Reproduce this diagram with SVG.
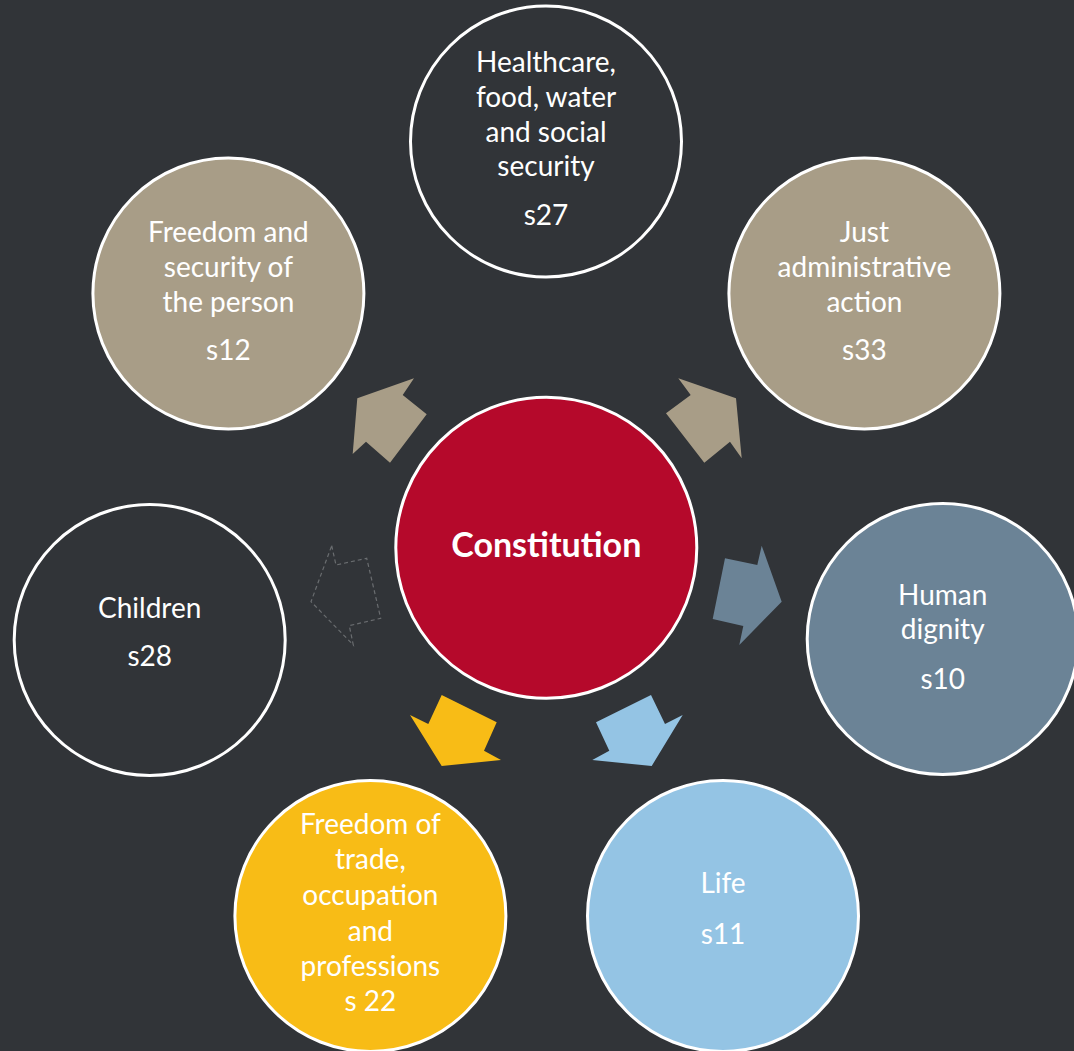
<svg xmlns="http://www.w3.org/2000/svg" width="1074" height="1051" viewBox="0 0 1074 1051">
<style>
.node{stroke:#ffffff;stroke-width:3}
.lbl{font-family:Lato,"Open Sans","Liberation Sans",sans-serif;font-size:28px;fill:#ffffff;text-anchor:middle}
.main{font-family:Lato,"Open Sans","Liberation Sans",sans-serif;font-size:34px;font-weight:bold;fill:#ffffff;text-anchor:middle}
.tan{fill:#A89D87}
.dark{fill:#313438}
</style>
<rect x="0" y="0" width="1074" height="1051" fill="#313438"/>
<g id="connectors">
<polygon class="tan" points="414,378.3 402.7,395 426.7,414.3 390,462.7 366,441.7 352.7,454 357.3,398.3"/>
<polygon class="tan" points="678.3,378.3 690.7,395 666,413.3 704.3,462.7 730,441.7 741.7,458.3 736,398.3"/>
<polygon fill="none" stroke="#6a6d70" stroke-width="1.2" stroke-dasharray="4,3" points="331.7,545.7 336,565 366.7,558.3 380.7,618.3 349.3,625.7 353.3,645 311,601.7"/>
<polygon fill="#6B8396" points="761.7,545.7 781.7,601.7 739.3,645 743.3,626 712.7,619 725,558.3 757.3,565"/>
<polygon fill="#F8BC16" points="441.7,695 496.7,722.3 484,750.7 501,760 441.7,766 410,715 428.3,724"/>
<polygon fill="#94C4E4" points="651,695 665,724 682.7,715 651.7,766 592.3,760 609.3,750.7 596,722.3"/>
</g>
<g id="healthcare">
<circle class="node dark" cx="546" cy="141.5" r="135.5"/>
<text class="lbl" x="546" y="72">Healthcare,</text>
<text class="lbl" x="546" y="107">food, water</text>
<text class="lbl" x="546" y="142">and social</text>
<text class="lbl" x="546" y="176">security</text>
<text class="lbl" x="546" y="225">s27</text>
</g>
<g id="freedom-security">
<circle class="node tan" cx="228.4" cy="293.5" r="135.5"/>
<text class="lbl" x="228.4" y="242">Freedom and</text>
<text class="lbl" x="228.4" y="277">security of</text>
<text class="lbl" x="228.4" y="312">the person</text>
<text class="lbl" x="228.4" y="360">s12</text>
</g>
<g id="just-admin">
<circle class="node tan" cx="864.4" cy="293.5" r="135.5"/>
<text class="lbl" x="864.4" y="242">Just</text>
<text class="lbl" x="864.4" y="277">administrative</text>
<text class="lbl" x="864.4" y="312">action</text>
<text class="lbl" x="864.4" y="360">s33</text>
</g>
<g id="children">
<circle class="node dark" cx="149.7" cy="640" r="135.5"/>
<text class="lbl" x="149.7" y="618">Children</text>
<text class="lbl" x="149.7" y="666">s28</text>
</g>
<g id="human-dignity">
<circle class="node" fill="#6B8396" cx="942.7" cy="639" r="135.5"/>
<text class="lbl" x="942.7" y="605">Human</text>
<text class="lbl" x="942.7" y="639">dignity</text>
<text class="lbl" x="942.7" y="689">s10</text>
</g>
<g id="freedom-trade">
<circle class="node" fill="#F8BC16" cx="370.4" cy="916" r="135.5"/>
<text class="lbl" x="370.4" y="834">Freedom of</text>
<text class="lbl" x="370.4" y="869">trade,</text>
<text class="lbl" x="370.4" y="905">occupation</text>
<text class="lbl" x="370.4" y="941">and</text>
<text class="lbl" x="370.4" y="976">professions</text>
<text class="lbl" x="370.4" y="1011">s 22</text>
</g>
<g id="life">
<circle class="node" fill="#94C4E4" cx="723" cy="916" r="135.5"/>
<text class="lbl" x="723" y="893">Life</text>
<text class="lbl" x="723" y="944">s11</text>
</g>
<g id="constitution">
<circle class="node" fill="#B5092B" cx="546.3" cy="547.8" r="150.5"/>
<text class="main" x="546.3" y="557">Constitution</text>
</g>
</svg>
